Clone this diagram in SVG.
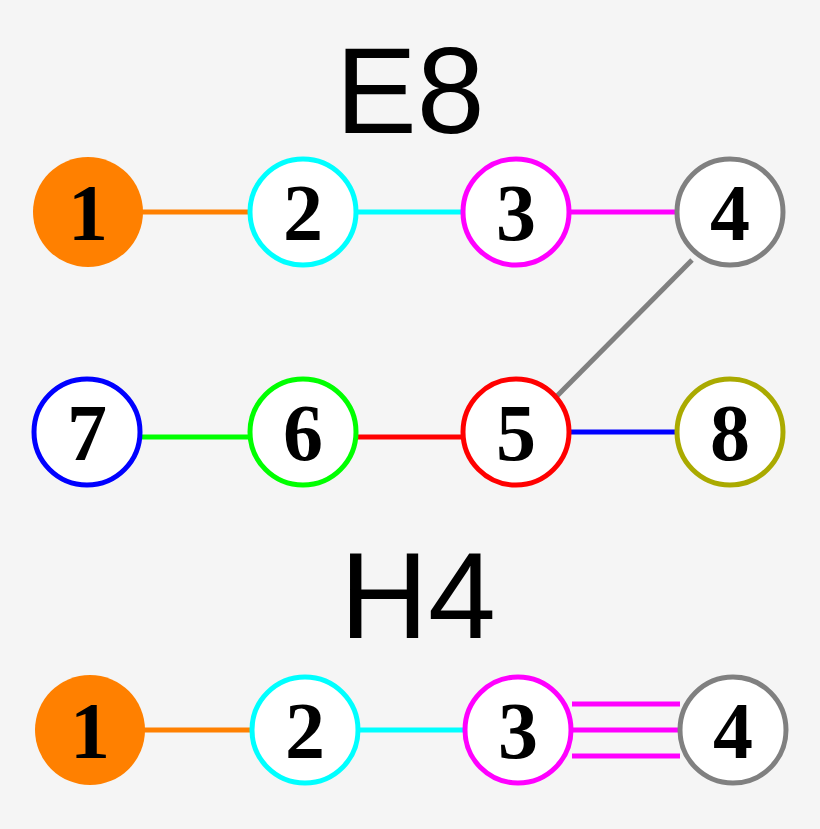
<svg xmlns="http://www.w3.org/2000/svg" width="820" height="829" viewBox="0 0 820 829">
<style>
.n{fill:#fff;stroke-width:5}
.t{font-family:"Liberation Serif",serif;font-weight:bold;font-size:80px;text-anchor:middle;fill:#000}
.h{font-family:"Liberation Sans",sans-serif;font-size:122px;text-anchor:middle;fill:#000}
.e{stroke-width:5;fill:none}
</style>
<rect width="820" height="829" fill="#f5f5f5"/>
<text class="h" x="410" y="133">E8</text>
<text class="h" x="418" y="638">H4</text>
<g id="connectors">
<line class="e" x1="140" y1="212" x2="250" y2="212" stroke="#ff8000"/>
<line class="e" x1="356" y1="212" x2="463" y2="212" stroke="#00ffff"/>
<line class="e" x1="569" y1="212" x2="677" y2="212" stroke="#ff00ff"/>
<line class="e" x1="692" y1="260" x2="555" y2="398" stroke="#808080"/>
<line class="e" x1="140" y1="437" x2="250" y2="437" stroke="#00ff00"/>
<line class="e" x1="356" y1="437" x2="463" y2="437" stroke="#ff0000"/>
<line class="e" x1="569" y1="432" x2="677" y2="432" stroke="#0000ff"/>
<line class="e" x1="143" y1="730" x2="252" y2="730" stroke="#ff8000"/>
<line class="e" x1="358" y1="730" x2="465" y2="730" stroke="#00ffff"/>
<line class="e" x1="572" y1="704" x2="680" y2="704" stroke="#ff00ff"/>
<line class="e" x1="568" y1="730" x2="680" y2="730" stroke="#ff00ff"/>
<line class="e" x1="572" y1="756" x2="680" y2="756" stroke="#ff00ff"/>
</g>
<g id="e1"><circle cx="88" cy="212" r="55" fill="#ff8000"/><text class="t" x="88" y="240">1</text></g>
<g id="e2"><circle class="n" cx="303" cy="212" r="53" stroke="#00ffff"/><text class="t" x="303" y="240">2</text></g>
<g id="e3"><circle class="n" cx="516" cy="212" r="53" stroke="#ff00ff"/><text class="t" x="516" y="240">3</text></g>
<g id="e4"><circle class="n" cx="730" cy="212" r="53" stroke="#808080"/><text class="t" x="730" y="240">4</text></g>
<g id="e7"><circle class="n" cx="87" cy="432" r="53" stroke="#0000ff"/><text class="t" x="87" y="460">7</text></g>
<g id="e6"><circle class="n" cx="303" cy="432" r="53" stroke="#00ff00"/><text class="t" x="303" y="460">6</text></g>
<g id="e5"><circle class="n" cx="516" cy="432" r="53" stroke="#ff0000"/><text class="t" x="516" y="460">5</text></g>
<g id="e8"><circle class="n" cx="730" cy="432" r="53" stroke="#aaaa00"/><text class="t" x="730" y="460">8</text></g>
<g id="h1"><circle cx="90" cy="730" r="55" fill="#ff8000"/><text class="t" x="90" y="758">1</text></g>
<g id="h2"><circle class="n" cx="305" cy="730" r="53" stroke="#00ffff"/><text class="t" x="305" y="758">2</text></g>
<g id="h3"><circle class="n" cx="518" cy="730" r="53" stroke="#ff00ff"/><text class="t" x="518" y="758">3</text></g>
<g id="h4"><circle class="n" cx="733" cy="730" r="53" stroke="#808080"/><text class="t" x="733" y="758">4</text></g>
</svg>
